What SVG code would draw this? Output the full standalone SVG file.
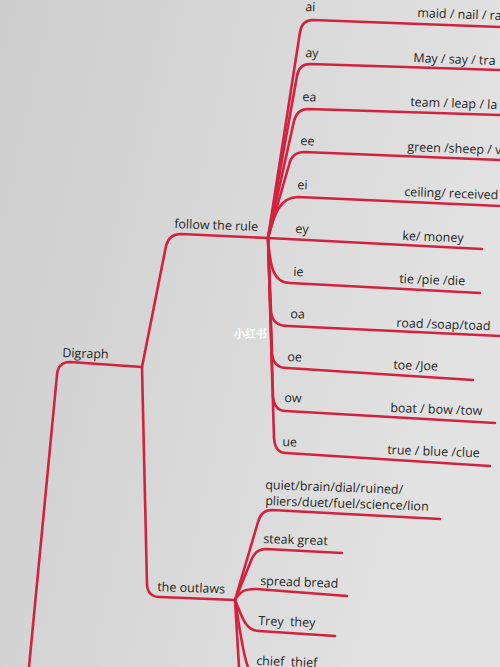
<svg xmlns="http://www.w3.org/2000/svg" width="500" height="667" viewBox="0 0 500 667">
<defs>
<linearGradient id="bg" x1="0" y1="0" x2="1" y2="0.3">
<stop offset="0" stop-color="#cdcdcd"/>
<stop offset="0.6" stop-color="#dadada"/>
<stop offset="1" stop-color="#e2e2e2"/>
</linearGradient>
<style>
.ln{fill:none;stroke:#d3223f;stroke-width:2.6;stroke-linecap:round;stroke-linejoin:round}
text{font-family:"Open Sans","Noto Sans","Liberation Sans",sans-serif;font-size:12.5px;fill:#262626}
.r{transform-box:fill-box;transform-origin:left bottom;transform:rotate(2deg)}
.wm{font-family:"Noto Sans CJK SC",sans-serif;font-size:11px;font-weight:bold;fill:#ffffff}
</style>
</defs>
<rect width="500" height="667" fill="url(#bg)"/>
<g id="connectors">
<path class="ln" d="M29 667 L57 375 Q58 362 70 362 L142 367"/>
<path class="ln" d="M142 367 L166 246 Q169 234 181 234 L268 238"/>
<path class="ln" d="M142 367 L147 585 Q148 597 160 597 L235 600"/>
<path class="ln" d="M268 238 L300 32 Q302 20 313 20 L500 27"/>
<path class="ln" d="M268 238 L297 76 Q299 64 310 64 L500 70"/>
<path class="ln" d="M268 238 L294 121 Q297 109 308 109 L500 115"/>
<path class="ln" d="M268 238 L289 165 Q292 152 304 152 L500 160"/>
<path class="ln" d="M268 238 C274 214 280 197 298 197 L500 206"/>
<path class="ln" d="M268 238 L482 249"/>
<path class="ln" d="M268 238 C270 266 273 283 290 283 L480 293"/>
<path class="ln" d="M268 238 L271 311 Q272 326 288 326 L500 336"/>
<path class="ln" d="M268 238 L272 353 Q273 368 287 368 L473 380"/>
<path class="ln" d="M268 238 L273 396 Q274 411 286 411 L495 423"/>
<path class="ln" d="M268 238 L274 438 Q275 453 286 453 L490 466"/>
<path class="ln" d="M235 600 L258 522 Q261 510 272 510 L440 519"/>
<path class="ln" d="M235 600 L251 561 Q255 549 266 549 L342 553"/>
<path class="ln" d="M235 600 C240 592 243 589 256 589 L347 596"/>
<path class="ln" d="M235 600 C242 616 245 631 259 631 L335 636"/>
<path class="ln" d="M235 600 C240 630 243 655 248 667"/>
<path class="ln" d="M235 600 L239 667"/>
</g>
<g id="root"><text class="r" x="62" y="357">Digraph</text></g>
<g id="follow"><text class="r" x="174" y="228">follow the rule</text></g>
<g id="outlaws"><text class="r" x="157" y="591">the outlaws</text></g>
<g id="ai"><text class="r" x="305" y="11">ai</text><text class="r" x="417" y="17">maid / nail / ra</text></g>
<g id="ay"><text class="r" x="305" y="57">ay</text><text class="r" x="413" y="62">May  / say / tra</text></g>
<g id="ea"><text class="r" x="302" y="101">ea</text><text class="r" x="410" y="106">team / leap / la</text></g>
<g id="ee"><text class="r" x="300" y="145">ee</text><text class="r" x="407" y="151">green /sheep / v</text></g>
<g id="ei"><text class="r" x="297" y="189">ei</text><text class="r" x="404" y="196">ceiling/ received</text></g>
<g id="ey"><text class="r" x="295" y="233">ey</text><text class="r" x="402" y="240">ke/ money</text></g>
<g id="ie"><text class="r" x="293" y="276">ie</text><text class="r" x="399" y="283">tie /pie /die</text></g>
<g id="oa"><text class="r" x="290" y="318">oa</text><text class="r" x="396" y="327">road /soap/toad</text></g>
<g id="oe"><text class="r" x="287" y="361">oe</text><text class="r" x="393" y="369">toe /Joe</text></g>
<g id="ow"><text class="r" x="284" y="402">ow</text><text class="r" x="390" y="412">boat / bow /tow</text></g>
<g id="ue"><text class="r" x="282" y="446">ue</text><text class="r" x="387" y="454">true / blue /clue</text></g>
<g id="quiet"><text class="r" x="265" y="489">quiet/brain/dial/ruined/</text><text class="r" x="265" y="505">pliers/duet/fuel/science/lion</text></g>
<g id="steak"><text class="r" x="263" y="543">steak great</text></g>
<g id="spread"><text class="r" x="260" y="585">spread bread</text></g>
<g id="trey"><text class="r" x="258" y="625" xml:space="preserve">Trey  they</text></g>
<g id="chief"><text class="r" x="256" y="665" xml:space="preserve">chief  thief</text></g>
<text class="wm" x="234" y="338">小红书</text>
</svg>
